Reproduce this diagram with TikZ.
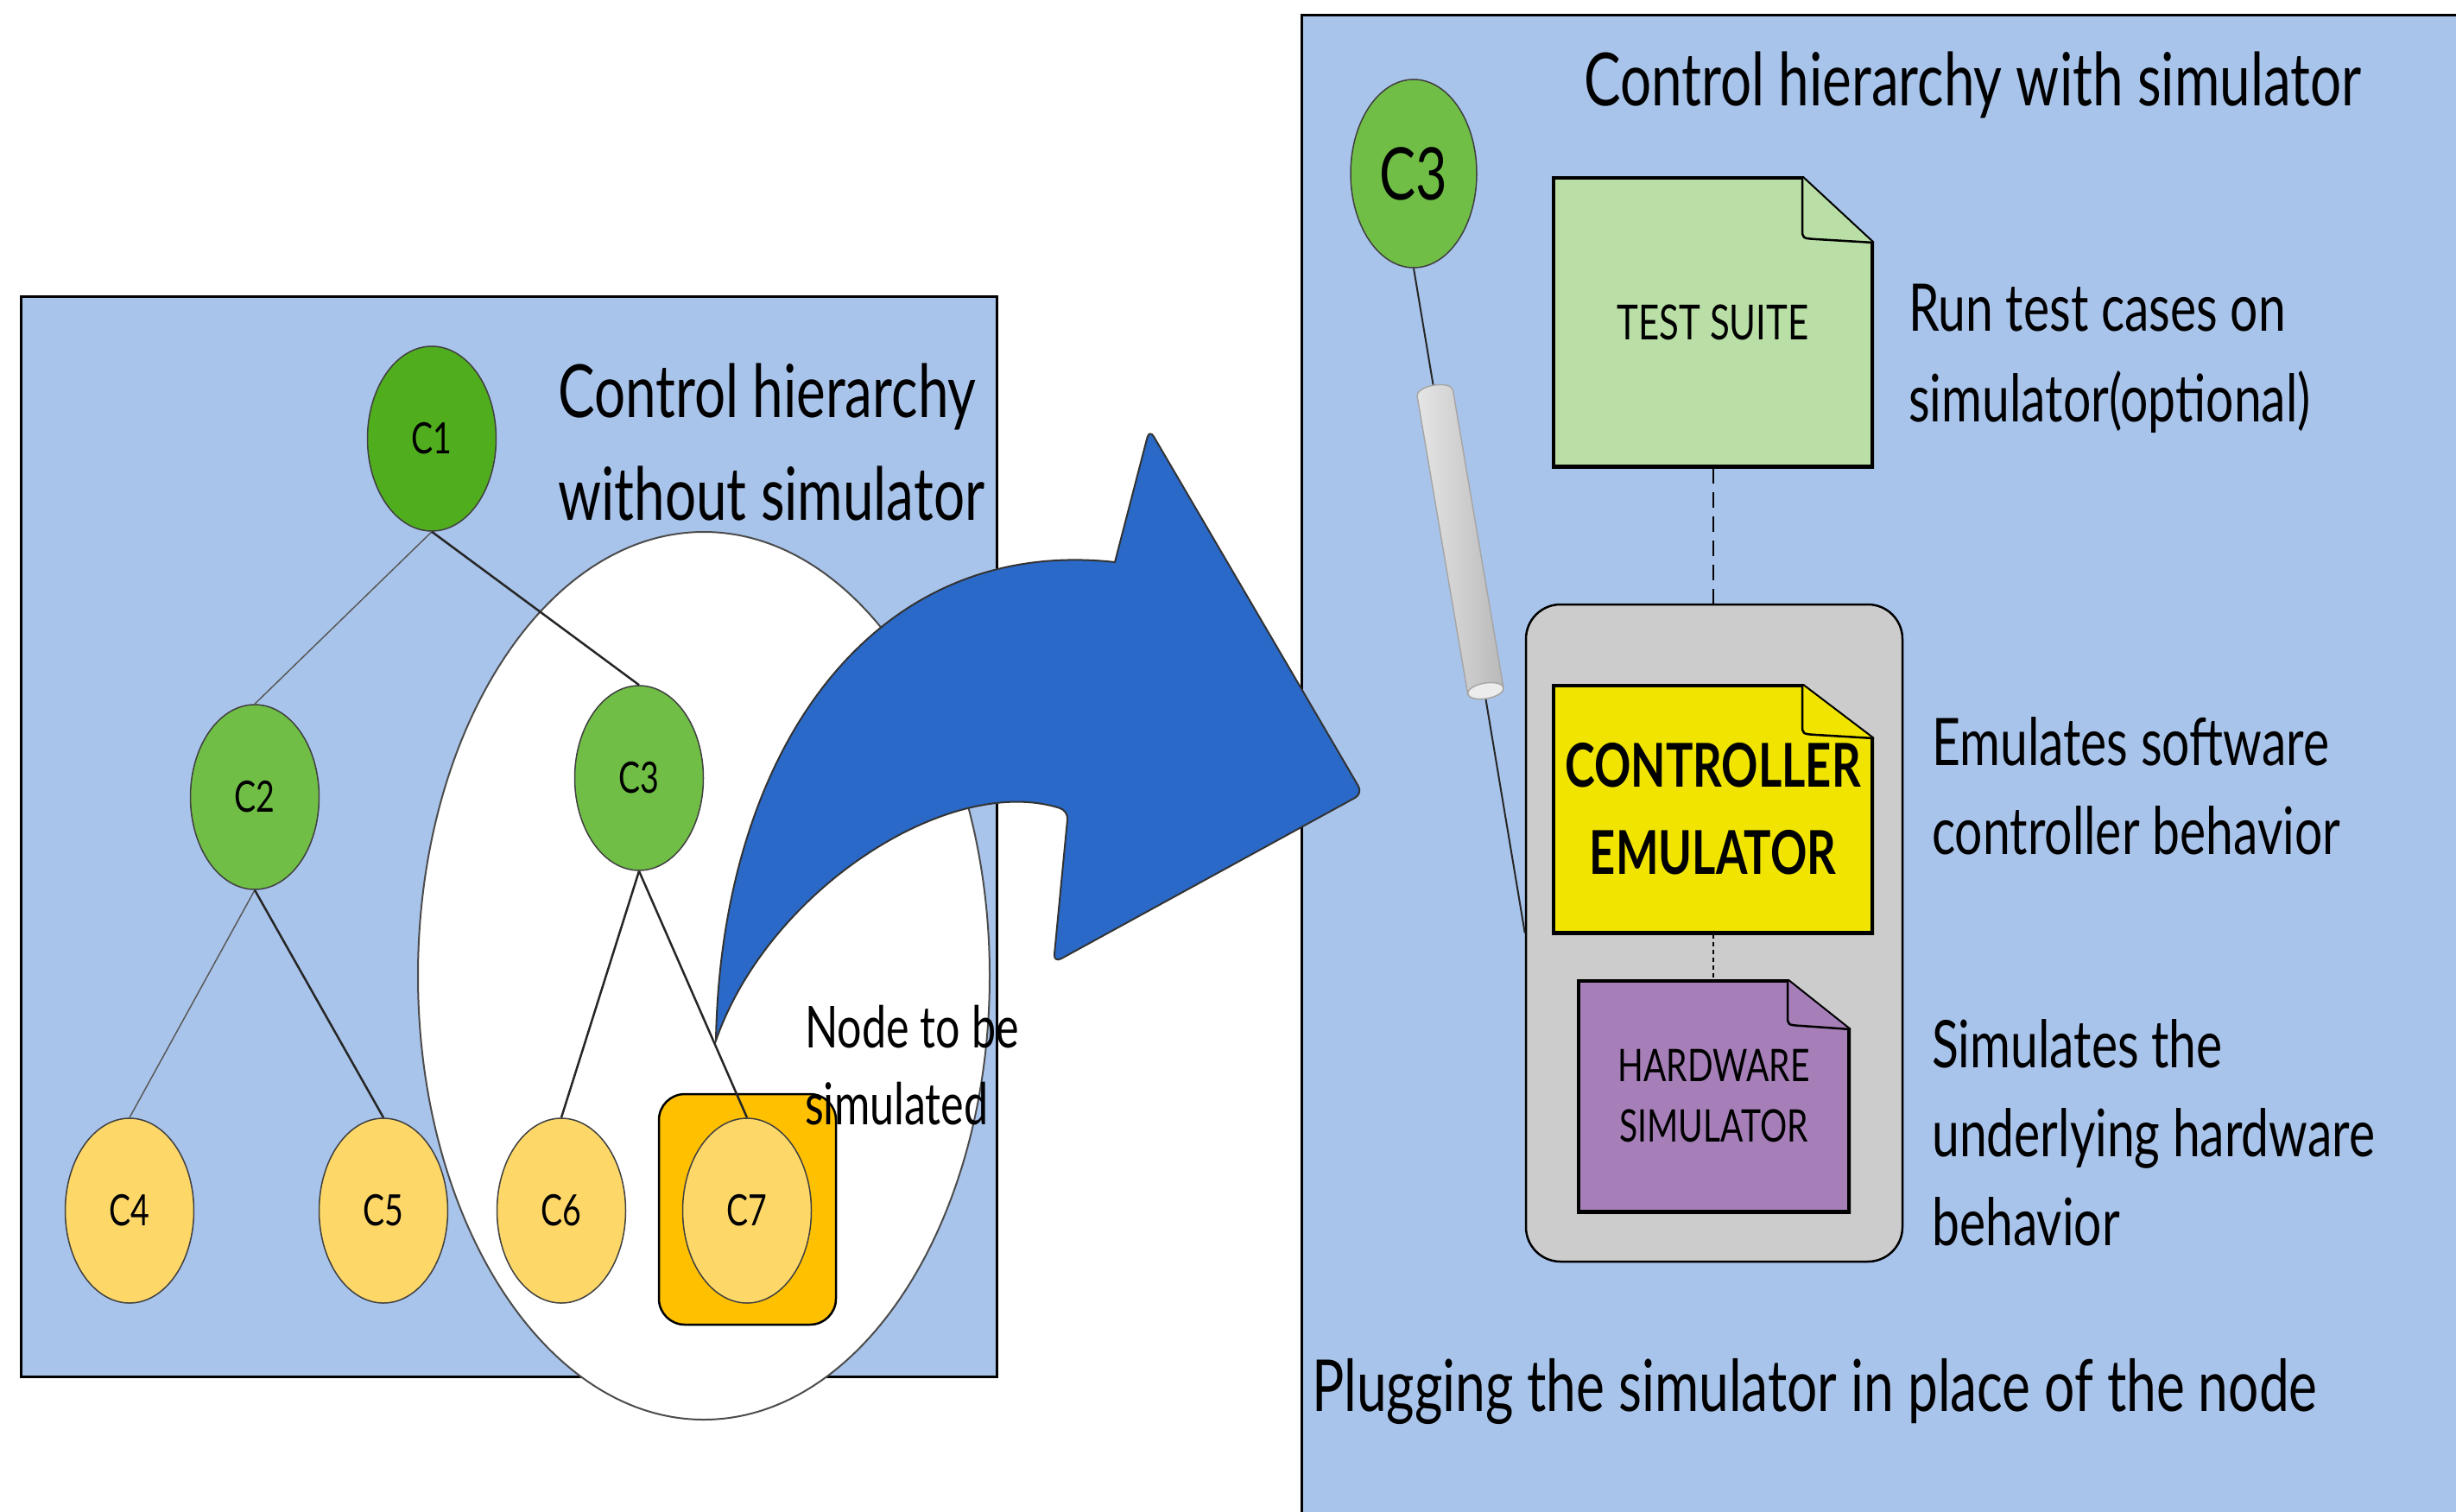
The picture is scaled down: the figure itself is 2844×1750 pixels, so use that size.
\documentclass[tikz,border=0pt]{standalone}
\usepackage{fontspec}
\newfontfamily\hand[FakeStretch=0.75]{Lato}
\usetikzlibrary{shapes.geometric}

\definecolor{panelblue}{RGB}{169,196,235}
\definecolor{rootgreen}{RGB}{80,173,30}
\definecolor{midgreen}{RGB}{112,190,70}
\definecolor{leafyellow}{RGB}{253,216,105}
\definecolor{simorange}{RGB}{255,192,0}
\definecolor{arrowblue}{RGB}{42,105,200}
\definecolor{suitegreen}{RGB}{185,223,166}
\definecolor{emuyellow}{RGB}{240,228,0}
\definecolor{hwpurple}{RGB}{166,127,184}
\definecolor{boxgray}{RGB}{204,204,204}

\tikzset{
  panel/.style={fill=panelblue, draw=black, line width=3},
  treenode/.style={ellipse, draw=black!75, line width=1.5, minimum width=149,
    minimum height=214, inner sep=0, font=\hand\fontsize{50}{60}\selectfont},
  link/.style={draw=black!85, line width=2.5},
  thinlink/.style={draw=black!65, line width=1.5},
  % multi-line labels are anchored at the baseline of their last line
  bigtext/.style={anchor=base west, inner sep=0, align=left,
    font=\hand\fontsize{85}{103}\selectfont},
  sidetext/.style={bigtext, font=\hand\fontsize{76}{103}\selectfont},
  % document shape with a folded upper right corner
  note/.style n args={3}{rectangle, inner sep=0, align=center,
    path picture={
      \fill[#1] (path picture bounding box.north west)
        -- ([xshift=-#2]path picture bounding box.north east)
        -- ([yshift=-#3]path picture bounding box.north east)
        -- (path picture bounding box.south east)
        -- (path picture bounding box.south west) -- cycle;
      \draw[line width=8, line join=miter]
        ([xshift=-#2]path picture bounding box.north east)
        -- (path picture bounding box.north west)
        -- (path picture bounding box.south west)
        -- (path picture bounding box.south east)
        -- ([yshift=-#3]path picture bounding box.north east);
      \draw[line width=2]
        ([xshift=-#2]path picture bounding box.north east)
        -- ([yshift=-#3]path picture bounding box.north east);
      \draw[line width=2.5, line join=round]
        ([xshift=-#2]path picture bounding box.north east)
        -- ([xshift=-#2, yshift=-#3+16]path picture bounding box.north east)
        .. controls ([xshift=-#2, yshift=-#3+5]path picture bounding box.north east)
        .. ([xshift=-#2+16, yshift=-#3+4]path picture bounding box.north east)
        -- ([yshift=-#3]path picture bounding box.north east);
    }},
}

\begin{document}
\begin{tikzpicture}[x=1pt, y=-1pt]
\useasboundingbox (0,0) rectangle (2844,1750);
\clip (0,0) rectangle (2844,1750);

% ---------------- left panel: hierarchy without simulator
\path[panel] (24,343) rectangle (1154,1594);
\filldraw[fill=white, draw=black!70, line width=2] (815,1130) ellipse [x radius=331, y radius=514];

\node (simbox) [rectangle, rounded corners=30, fill=simorange, draw=black, line width=2.5,
  minimum width=205, minimum height=267] at (865.5,1400.5) {};

\node (c1) [treenode, fill=rootgreen] at (500,508) {C1};
\node (c2) [treenode, fill=midgreen] at (295,923) {C2};
\node (c3) [treenode, fill=midgreen] at (740,901) {C3};
\node (c4) [treenode, fill=leafyellow] at (150,1402) {C4};
\node (c5) [treenode, fill=leafyellow] at (444,1402) {C5};
\node (c6) [treenode, fill=leafyellow] at (650,1402) {C6};
\node (c7) [treenode, fill=leafyellow] at (865,1402) {C7};

\draw[thinlink] (c1.south) -- (c2.north);
\draw[link] (c1.south) -- (c3.north);
\draw[thinlink] (c2.south) -- (c4.north);
\draw[link] (c2.south) -- (c5.north);
\draw[link] (c3.south) -- (c6.north);
\draw[link] (c3.south) -- (c7.north);

\node (lefttitle) [bigtext, font=\hand\fontsize{85}{119}\selectfont] at (646,602)
  {Control hierarchy\\without simulator};
\node (simnote) [bigtext, font=\hand\fontsize{67}{89}\selectfont] at (932,1302)
  {Node to be\\simulated};

% ---------------- right panel: hierarchy with simulator
\path[panel] (1507,18) rectangle (2900,1800);

\node (righttitle) [bigtext] at (1834,123) {Control hierarchy with simulator};

\node (c3r) [treenode, fill=midgreen, minimum width=146, minimum height=218,
  font=\hand\fontsize{84}{90}\selectfont] at (1637,201) {C3};

\node (emubox) [rectangle, rounded corners=40, fill=boxgray, draw=black, line width=2.5,
  minimum width=436, minimum height=761] at (1985,1080.5) {};

\draw[line width=2, black!85] (c3r.south) -- (emubox.west);

% plug on the connecting cable
\begin{scope}[shift={(1691,627.5)}, rotate=-80.36]
  \shade[left color=gray!20, middle color=white, right color=gray!55, draw=gray!70, line width=1.5]
    (-175,-21) -- (175,-21) arc[start angle=-90, end angle=90, x radius=9, y radius=21]
    -- (-175,21) arc[start angle=90, end angle=270, x radius=9, y radius=21] -- cycle;
  \filldraw[fill=gray!15, draw=gray!70, line width=1.5] (175,0) ellipse [x radius=9, y radius=21];
\end{scope}

\node (suite) [note={suitegreen}{83}{77}, minimum width=373, minimum height=338,
  font=\hand\fontsize{56}{66}\selectfont] at (1983.5,373) {TEST SUITE};
\node (ctrl) [note={emuyellow}{83}{63}, minimum width=373, minimum height=290,
  font=\hand\bfseries\fontsize{70}{101}\selectfont] at (1983.5,937) {CONTROLLER\\EMULATOR};
\node (hw) [note={hwpurple}{73}{58}, minimum width=317, minimum height=271,
  font=\hand\fontsize{52}{70}\selectfont] at (1984.5,1269.5) {HARDWARE\\SIMULATOR};

\draw[line width=2, dash pattern=on 18pt off 10pt] (suite.south) -- (suite.south |- emubox.north);
\draw[line width=2, dash pattern=on 5pt off 4pt] (ctrl.south) -- (ctrl.south |- hw.north);

\node (suitenote) [sidetext, font=\hand\fontsize{76}{105}\selectfont] at (2210,488)
  {Run test cases on\\simulator(optional)};
\node (ctrlnote) [sidetext] at (2237,989) {Emulates software\\controller behavior};
\node (hwnote) [sidetext] at (2237,1442) {Simulates the\\underlying hardware\\behavior};
\node (caption) [bigtext, font=\hand\fontsize{83}{103}\selectfont] at (1519,1634)
  {Plugging the simulator in place of the node};

% ---------------- curved arrow between the panels
\draw[fill=arrowblue, draw=black!80, line width=2]
  (1291,651) [rounded corners=10] -- (1331,497) -- (1578,919) -- (1220,1115) -- (1237,939)
  [sharp corners] .. controls (1100,895) and (890,1030) .. (829,1205)
  .. controls (835,870) and (1010,620) .. (1291,651) -- cycle;

\end{tikzpicture}
\end{document}
